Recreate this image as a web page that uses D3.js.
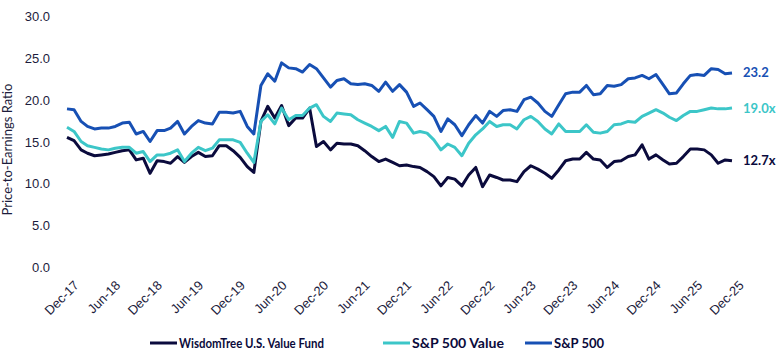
<!DOCTYPE html>
<html lang="en">
<head>
<meta charset="UTF-8">
<title>Price-to-Earnings Ratio</title>
<script src="https://cdn.jsdelivr.net/npm/d3@7"></script>
<style>
    body { margin: 0; background: #ffffff; font-family: Lato, "Open Sans", sans-serif; }
    .tick text { fill: #1c1c3c; font-size: 13px; }
    .legend text { font-family: Lato, sans-serif; font-weight: bold; font-size: 13px; fill: #0b0b3b; }
</style>
</head>
<body>
<svg id="chart" width="779" height="361"></svg>
<script>
    // monthly P/E ratios, Dec-17 .. Dec-25
    const startMonth = new Date(2017, 11, 1);
    const wisdomTree = [15.5,15.1,14.0,13.6,13.3,13.4,13.5,13.7,13.9,14.0,12.8,13.0,11.2,12.7,12.6,12.4,13.2,12.5,13.2,13.7,13.2,13.3,14.5,14.5,13.9,
        13.1,12.0,11.3,17.4,19.2,17.8,19.3,16.9,17.8,17.8,19.0,14.4,15.0,14.0,14.8,14.7,14.7,14.5,13.9,13.2,12.6,12.9,12.5,12.1,
        12.2,12.0,11.9,11.4,10.8,9.7,10.7,10.5,9.7,11.0,11.9,9.6,11.0,10.7,10.4,10.4,10.2,11.4,12.1,11.7,11.2,10.6,11.6,12.7,
        12.9,12.9,13.7,12.9,12.8,11.9,12.6,12.7,13.2,13.4,14.6,12.9,13.4,12.8,12.3,12.4,13.2,14.1,14.1,14.0,13.4,12.4,12.8,12.7];
    const spValue = [16.7,16.2,15.0,14.5,14.3,14.1,14.0,14.2,14.3,14.3,13.6,13.8,12.6,13.4,13.4,13.6,14.0,12.6,13.6,14.3,13.9,14.2,15.2,15.2,15.2,
        14.9,13.6,12.5,17.4,18.2,17.1,19.0,17.6,18.1,18.1,19.0,19.4,18.0,17.4,18.4,18.3,18.2,17.6,17.2,16.8,16.3,16.8,15.5,17.4,
        17.2,16.0,16.2,16.0,15.2,14.0,14.7,14.3,13.3,14.8,15.8,16.5,17.4,16.8,17.0,17.0,16.5,17.6,18.0,17.4,16.5,15.9,17.1,16.2,
        16.2,16.2,17.0,16.1,16.0,16.2,17.0,17.1,17.4,17.3,18.0,18.4,18.8,18.4,17.9,17.5,18.1,18.6,18.6,18.8,19.0,18.9,18.9,19.0];
    const sp500 = [18.9,18.8,17.4,16.8,16.5,16.6,16.6,16.8,17.2,17.3,15.9,16.2,15.0,16.3,16.3,16.6,17.4,15.9,16.8,17.5,17.2,17.1,18.5,18.5,18.4,
        18.6,16.8,15.9,21.7,23.1,22.2,24.4,23.8,23.7,23.3,24.2,23.7,22.6,21.5,22.3,22.5,21.9,21.8,21.9,21.7,21.0,22.1,21.0,21.8,
        20.9,19.2,19.6,18.8,18.0,16.2,17.7,17.0,15.7,17.0,18.1,17.2,18.6,18.0,18.7,18.8,18.6,20.0,20.3,19.6,18.6,18.0,19.4,20.7,
        20.9,20.9,21.7,20.6,20.7,21.7,21.6,21.8,22.5,22.6,22.9,22.5,23.0,21.8,20.7,20.8,21.9,22.9,23.0,22.9,23.7,23.6,23.1,23.2];
    const seriesNames = ["WisdomTree U.S. Value Fund", "S&P 500 Value", "S&P 500"];
    const endLabels = ["12.7x", "19.0x", "23.2"];
    const colors = ["#0b0b3d", "#3cc6c8", "#1750b4"];
    const yTicks = [0, 5, 10, 15, 20, 25, 30];

    const svg = d3.select("#chart");
    const plotLeft = 67, plotRight = 732, plotTop = 16, plotBottom = 267;

    const dates = wisdomTree.map((d, i) => d3.timeMonth.offset(startMonth, i));
    const x = d3.scaleTime().domain(d3.extent(dates)).range([plotLeft, plotRight]);
    const y = d3.scaleLinear().domain([0, 30]).range([plotBottom, plotTop]);

    // y axis
    const yAxis = svg.append("g")
        .attr("transform", `translate(${plotLeft - 17},0)`)
        .call(d3.axisLeft(y).tickValues(yTicks).tickFormat(d3.format(".1f")).tickSize(0).tickPadding(0));
    yAxis.select(".domain").remove();
    yAxis.selectAll("text").attr("dy", "0.35em");

    svg.append("text")
        .attr("transform", `translate(12,${(plotTop + plotBottom) / 2 + 8}) rotate(-90)`)
        .attr("text-anchor", "middle")
        .attr("fill", "#1c1c3c")
        .style("font-size", "13px")
        .text("Price-to-Earnings Ratio");

    // x axis: every 6 months
    const xTicks = dates.filter((d, i) => i % 6 === 0);
    const xAxis = svg.append("g")
        .attr("transform", `translate(0,${plotBottom + 10})`)
        .call(d3.axisBottom(x).tickValues(xTicks).tickFormat(d3.timeFormat("%b-%y")).tickSize(0).tickPadding(0));
    xAxis.select(".domain").remove();
    xAxis.selectAll("text")
        .attr("text-anchor", "end")
        .attr("dy", "0.35em")
        .attr("transform", "translate(9,6) rotate(-45)");

    const line = d3.line()
        .x((d, i) => x(dates[i]))
        .y(d => y(d));

    const allSeries = [wisdomTree, spValue, sp500];
    allSeries.forEach((s, k) => {
        svg.append("path")
            .datum(s)
            .attr("fill", "none")
            .attr("stroke", colors[k])
            .attr("stroke-width", 3)
            .attr("stroke-linejoin", "round")
            .attr("d", line);

        svg.append("text")
            .attr("x", x(dates[dates.length - 1]) + 11)
            .attr("y", y(s[s.length - 1]))
            .attr("dy", "0.35em")
            .attr("fill", colors[k])
            .style("font-size", "13px")
            .style("font-weight", "bold")
            .text(endLabels[k]);
    });

    // legend (text squeezed to the narrow face of the original)
    const legendX = [150, 383, 525];
    const legendWidths = [145, 92, 50];
    const legend = svg.append("g").attr("class", "legend");
    seriesNames.forEach((name, k) => {
        legend.append("line")
            .attr("x1", legendX[k]).attr("x2", legendX[k] + 27)
            .attr("y1", 343).attr("y2", 343)
            .attr("stroke", colors[k])
            .attr("stroke-width", 3);
        legend.append("text")
            .attr("x", legendX[k] + 29)
            .attr("y", 343)
            .attr("dy", "0.35em")
            .attr("textLength", legendWidths[k])
            .attr("lengthAdjust", "spacingAndGlyphs")
            .text(name);
    });
</script>
</body>
</html>
